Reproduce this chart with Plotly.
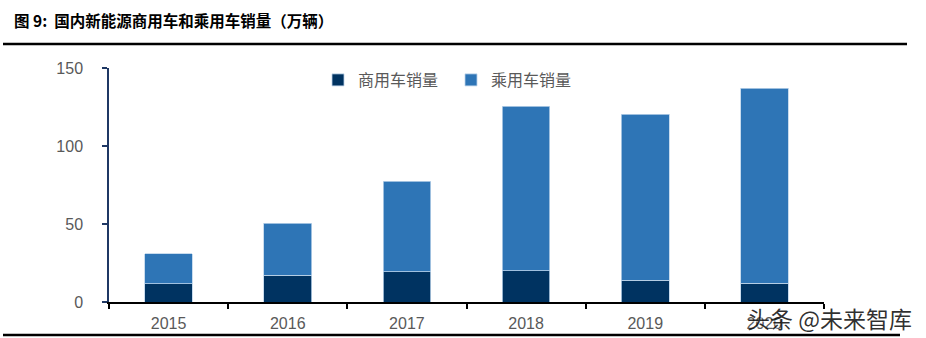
import plotly.graph_objects as go

years = ["2015", "2016", "2017", "2018", "2019", "2020"]
commercial = [11.7, 17.1, 19.4, 20.1, 14.1, 12.0]
passenger = [19.3, 33.5, 58.0, 105.5, 106.4, 125.0]
series_names = ["商用车销量", "乘用车销量"]
colors = ["#003361", "#2E75B6"]
title_text = "图 9:  国内新能源商用车和乘用车销量（万辆）"
watermark = "头条 @未来智库"

W, H = 926, 338
L, R = 109, 824
T, B = 68, 302

def px_x(p):
    return (p - L) / (R - L)

def px_y(p):
    return (B - p) / (B - T)

fig = go.Figure()
for name, vals, c in zip(series_names, [commercial, passenger], colors):
    fig.add_trace(go.Bar(
        x=years, y=vals, name=name,
        marker=dict(color=c, line=dict(color="#bcd3ea", width=0.8)),
        width=0.4,
    ))

fig.update_layout(
    width=W, height=H,
    barmode="stack",
    margin=dict(l=L, r=W - R, t=T, b=H - B, pad=0, autoexpand=False),
    plot_bgcolor="white", paper_bgcolor="white",
    showlegend=True,
    legend=dict(
        orientation="h", x=px_x(318), y=px_y(80), xanchor="left", yanchor="middle",
        font=dict(family="Noto Sans CJK SC", size=16, color="#595959"),
        bgcolor="rgba(0,0,0,0)", traceorder="normal",
        entrywidth=88, entrywidthmode="pixels",
    ),
    xaxis=dict(
        type="category", range=[-0.5, 5.5], automargin=False,
        showline=True, linecolor="black", linewidth=2,
        ticks="outside", tickson="boundaries", ticklen=5, tickcolor="black", tickwidth=2,
        ticklabelstandoff=6,
        tickfont=dict(family="Liberation Sans, Arial", size=16, color="#595959"),
        showgrid=False, zeroline=False,
    ),
    yaxis=dict(
        range=[0, 150], tickvals=[0, 50, 100, 150], automargin=False,
        showline=True, linecolor="#1F3864", linewidth=1.5,
        ticks="outside", ticklen=5, tickcolor="#1F3864", tickwidth=1.5,
        ticklabelstandoff=16,
        tickfont=dict(family="Liberation Sans, Arial", size=16, color="#595959"),
        showgrid=False, zeroline=False,
    ),
    shapes=[
        dict(type="line", xref="paper", yref="paper",
             x0=px_x(3), x1=px_x(907), y0=px_y(44), y1=px_y(44),
             line=dict(color="black", width=2.5)),
        dict(type="line", xref="paper", yref="paper",
             x0=px_x(3), x1=px_x(900), y0=px_y(335), y1=px_y(335),
             line=dict(color="black", width=2.5)),
    ],
    annotations=[
        dict(text="<b>" + title_text + "</b>", xref="paper", yref="paper",
             x=px_x(12), y=px_y(20), xanchor="left", yanchor="middle", showarrow=False,
             font=dict(family="Noto Sans CJK SC", size=15.5, color="black")),
        dict(text=watermark, xref="paper", yref="paper",
             x=px_x(745), y=px_y(318), xanchor="left", yanchor="middle", showarrow=False,
             font=dict(family="Noto Sans CJK SC", size=23, color="rgba(10,10,10,0.85)",
                       shadow="1px 1px 1px rgba(255,255,255,0.7)")),
    ],
)

fig.write_html("out.html")
